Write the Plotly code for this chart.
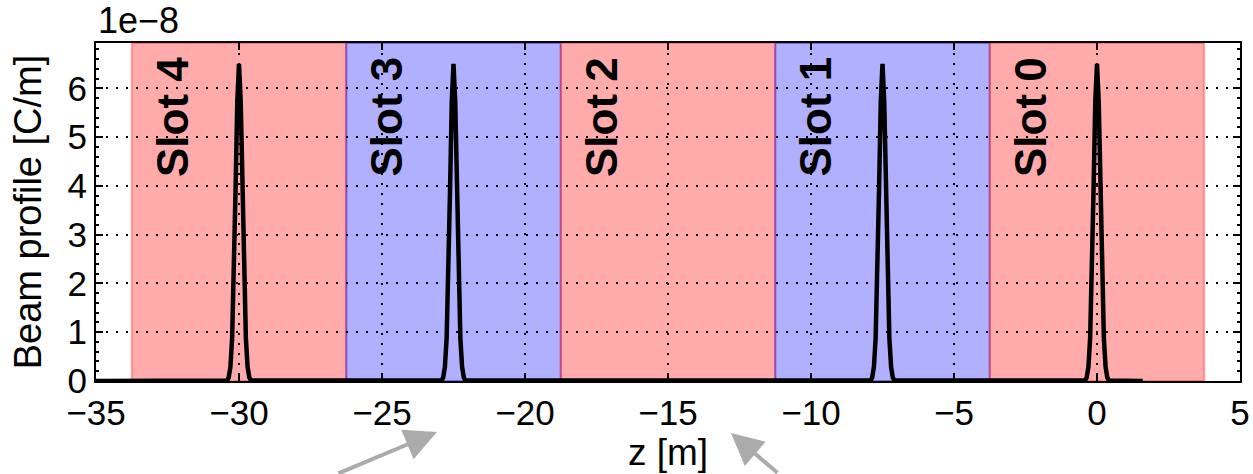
import plotly.graph_objects as go

# Bunch line-charge profile along the ring, values in units of 1e-8 C/m
bunch_centres = [-30.0, -22.5, -7.5, 0.0]
shape_offsets = [-0.42, -0.36, -0.30, -0.24, -0.18, -0.12, -0.06, 0.0,
                 0.06, 0.12, 0.18, 0.24, 0.30, 0.36, 0.42]
shape_values = [0.01, 0.07, 0.29, 0.88, 2.11, 3.94, 5.73, 6.5,
                5.73, 3.94, 2.11, 0.88, 0.29, 0.07, 0.01]
profile_start = -35.0
profile_end = 1.6

# RF slots: edges, names and colours
slot_left = [-33.75, -26.25, -18.75, -11.25, -3.75]
slot_right = [-26.25, -18.75, -11.25, -3.75, 3.75]
slot_names = ["Slot 4", "Slot 3", "Slot 2", "Slot 1", "Slot 0"]
slot_colour = ["red", "blue", "red", "blue", "red"]

x_ticks = [-35, -30, -25, -20, -15, -10, -5, 0, 5]
y_ticks = [0, 1, 2, 3, 4, 5, 6]

FONT = "Liberation Sans, Arial, sans-serif"

z = [profile_start]
q = [0.0]
for c in bunch_centres:
    z += [c + d for d in shape_offsets]
    q += list(shape_values)
z.append(profile_end)
q.append(0.0)

fig = go.Figure()
fig.add_trace(go.Scatter(x=z, y=q, mode="lines",
                         line=dict(color="black", width=4.5),
                         showlegend=False, hoverinfo="skip"))

fills = {"red": "rgba(255,0,0,0.33)", "blue": "rgba(0,0,255,0.31)"}
edges = {"red": "rgba(255,0,0,0.3)", "blue": "rgba(60,0,200,0.4)"}
for a, b, col in zip(slot_left, slot_right, slot_colour):
    fig.add_shape(type="rect", xref="x", yref="paper", x0=a, x1=b, y0=0, y1=1,
                  fillcolor=fills[col], line=dict(color=edges[col], width=2),
                  layer="below")

for a, name in zip(slot_left, slot_names):
    fig.add_annotation(x=a + 1.42, y=5.42, xref="x", yref="y", text=f"<b>{name}</b>",
                       textangle=-90, showarrow=False,
                       font=dict(family=FONT, size=44, color="black"))

fig.add_annotation(x=0, y=1.0, xref="paper", yref="paper", text="1e\u22128",
                   xanchor="left", yanchor="bottom", showarrow=False, yshift=0,
                   font=dict(family=FONT, size=36, color="black"))

# Grey pointer arrows beneath the axis
for tip_x, tip_y, ax, ay in [(-23.08, -0.151, -100, 64), (-12.8, -0.154, 48, 60)]:
    fig.add_annotation(x=tip_x, y=tip_y, xref="x", yref="paper", text="",
                       showarrow=True, ax=ax, ay=ay, arrowcolor="#ABABAB",
                       arrowwidth=4, arrowhead=2, arrowsize=1.6)

axis_common = dict(showline=True, linecolor="black", linewidth=2, mirror="allticks",
                   ticks="inside", ticklen=7, tickwidth=1.5, tickcolor="black",
                   showgrid=True, gridcolor="black", gridwidth=1.5, griddash="2px,8px",
                   zeroline=False, automargin=False,
                   tickfont=dict(family=FONT, size=35, color="black"))

fig.update_xaxes(range=[-35, 5], tickvals=x_ticks,
                 ticktext=[str(v).replace("-", "\u2212") for v in x_ticks],
                 title=dict(text="z [m]", font=dict(family=FONT, size=37, color="black"),
                            standoff=2),
                 **axis_common)
fig.update_yaxes(range=[0, 6.93], tickvals=y_ticks,
                 ticktext=[str(v) for v in y_ticks],
                 minor=dict(dtick=0.2, ticks="inside", ticklen=3, tickcolor="black",
                            showgrid=False),
                 title=dict(text="Beam profile [C/m]",
                            font=dict(family=FONT, size=38, color="black"), standoff=14),
                 **axis_common)

fig.update_layout(width=1253, height=474, plot_bgcolor="white", paper_bgcolor="white",
                  margin=dict(l=96, r=13, t=43, b=93), showlegend=False)

fig.write_html("out.html")
